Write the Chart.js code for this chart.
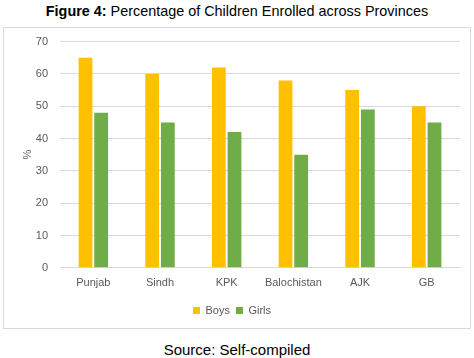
<!DOCTYPE html>
<html><head><meta charset="utf-8">
<script src="https://cdn.jsdelivr.net/npm/chart.js@4/dist/chart.umd.min.js"></script>
<style>
html,body{margin:0;padding:0;background:#fff;width:474px;height:358px;overflow:hidden;font-family:"Liberation Sans",Arial,sans-serif;}
#title{position:absolute;left:0;top:3px;width:474px;text-align:center;font-size:14.4px;color:#000;}
#box{position:absolute;left:3px;top:27px;width:466px;height:300px;border:1px solid #d9d9d9;}
#src{position:absolute;left:0;top:341px;width:474px;text-align:center;font-size:15px;color:#000;}
canvas{display:block;position:absolute;left:0;top:-5px;}
</style></head>
<body>
<div id="title"><b>Figure 4:</b> Percentage of Children Enrolled across Provinces</div>
<div id="box"><canvas id="c" width="466" height="304"></canvas></div>
<div id="src">Source: Self-compiled</div>
<script>
const categories = ["Punjab","Sindh","KPK","Balochistan","AJK","GB"];
const boys = [65,60,62,58,55,50];
const girls = [48,45,42,35,49,45];
const yTicks = [0,10,20,30,40,50,60,70];

new Chart(document.getElementById('c'), {
  type:'bar',
  data:{labels:categories,datasets:[
    {label:'Boys',data:boys,backgroundColor:'#ffc000',categoryPercentage:0.47,barPercentage:0.88},
    {label:'Girls',data:girls,backgroundColor:'#70ad47',categoryPercentage:0.47,barPercentage:0.88}
  ]},
  options:{
    responsive:false,animation:false,
    layout:{padding:{top:0,right:10,left:0,bottom:1}},
    plugins:{
      legend:{position:'bottom',labels:{boxWidth:7,boxHeight:7,padding:6,color:'#595959',font:{family:'"Liberation Sans",Arial',size:11}}},
      tooltip:{enabled:false}
    },
    scales:{
      x:{grid:{display:false,drawTicks:false},border:{color:'#d9d9d9'},ticks:{color:'#595959',padding:9,font:{family:'"Liberation Sans",Arial',size:11}}},
      y:{min:0,max:70,afterBuildTicks:(a)=>{a.ticks=yTicks.map(v=>({value:v}));},
        afterFit:(s)=>{s.width=56;},
        grid:{color:'#d9d9d9',drawTicks:false},border:{display:false},
        ticks:{color:'#595959',padding:12,font:{family:'"Liberation Sans",Arial',size:11}},
        title:{display:true,text:'%',color:'#595959',padding:{top:17,bottom:6},font:{family:'"Liberation Sans",Arial',size:11}}}
    }
  }
});
</script>
</body></html>
